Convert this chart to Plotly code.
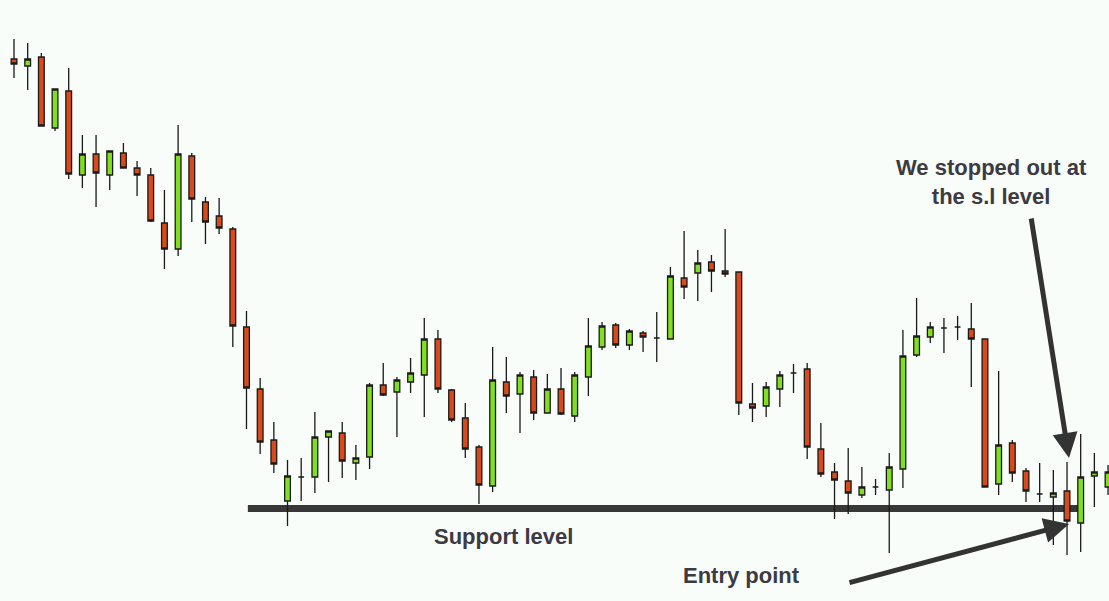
import plotly.graph_objects as go

# Candle data (arbitrary price units), one entry per session
opens = [541, 534, 543, 472, 509, 425, 446, 425, 447, 432,
         425, 377, 351, 444, 398, 384, 371, 273, 211, 160,
         99, 123, 123, 163, 167, 137, 143, 215, 208, 218,
         225, 261, 210, 182, 153, 114, 218, 206, 223, 187,
         211, 184, 223, 253, 275, 255, 267, 262, 261, 322,
         327, 338, 329, 328, 196, 194, 211, 227, 231, 151,
         128, 119, 105, 113, 110, 131, 245, 263, 272, 273,
         271, 261, 116, 157, 129, 106, 103, 109, 77, 124,
         113]
closes = [536, 541, 474, 511, 426, 446, 427, 449, 432, 425,
          379, 351, 446, 401, 378, 372, 274, 212, 158, 136,
          124, 123, 163, 169, 139, 142, 215, 205, 220, 227,
          261, 211, 180, 151, 115, 220, 204, 225, 187, 211,
          186, 225, 254, 274, 255, 269, 263, 262, 324, 313,
          337, 329, 326, 197, 192, 213, 225, 227, 153, 126,
          120, 107, 113, 113, 133, 244, 264, 273, 272, 273,
          261, 113, 155, 127, 109, 106, 107, 79, 123, 128,
          128]
highs = [561, 557, 547, 511, 532, 465, 465, 449, 457, 439,
         432, 410, 475, 447, 403, 402, 373, 289, 222, 178,
         140, 142, 188, 169, 178, 155, 217, 237, 223, 242,
         282, 270, 211, 197, 155, 253, 243, 228, 230, 226,
         232, 228, 282, 278, 277, 271, 269, 288, 333, 369,
         350, 345, 371, 328, 217, 218, 229, 236, 237, 177,
         137, 152, 133, 121, 147, 270, 302, 278, 282, 284,
         297, 261, 229, 160, 132, 137, 130, 138, 166, 147,
         135]
lows = [522, 510, 474, 469, 421, 412, 393, 410, 432, 404,
        378, 331, 344, 378, 356, 366, 253, 171, 146, 127,
        74, 99, 107, 118, 122, 120, 131, 204, 163, 207,
        183, 207, 178, 142, 96, 108, 187, 167, 180, 187,
        185, 178, 204, 250, 252, 250, 248, 238, 261, 301,
        299, 308, 323, 185, 178, 183, 193, 207, 141, 123,
        81, 86, 102, 105, 47, 112, 243, 257, 247, 260,
        213, 113, 105, 118, 98, 98, 55, 45, 48, 93,
        105]

idx = list(range(len(opens)))

# Annotation texts
support_text = "Support level"
entry_text = "Entry point"
stop_text = "We stopped out at<br>the s.l level"
support_price = 91.5

fig = go.Figure()
fig.add_trace(go.Candlestick(
    x=idx, open=opens, high=highs, low=lows, close=closes,
    increasing=dict(fillcolor="#80E020", line=dict(color="#1a1a1a", width=1.3)),
    decreasing=dict(fillcolor="#D84A1A", line=dict(color="#1a1a1a", width=1.3)),
    whiskerwidth=0,
    showlegend=False,
    hoverinfo="skip",
))

W, H = 1109, 601


def px(x):
    return x / W


def py(y):
    return 1 - y / H


# support line
fig.add_shape(type="line", xref="x", yref="y", x0=17.1, x1=77.95,
              y0=support_price, y1=support_price,
              line=dict(color="#383838", width=7), layer="below")

font = dict(family="Liberation Sans, Arial, sans-serif", size=22, color="#3d3a42")
annots = [
    dict(text="<b>" + support_text + "</b>", x=px(503), y=py(536), xref="paper", yref="paper",
         showarrow=False, font=font, xanchor="center", yanchor="middle"),
    dict(text="<b>" + entry_text + "</b>", x=px(741), y=py(575), xref="paper", yref="paper",
         showarrow=False, font=font, xanchor="center", yanchor="middle"),
    dict(text="<b>" + stop_text + "</b>", x=px(991), y=py(182), xref="paper", yref="paper",
         showarrow=False, font=font, xanchor="center", yanchor="middle", align="center"),
    # arrows
    dict(text="", x=px(1069), y=py(458), xref="paper", yref="paper",
         ax=-38, ay=-241, axref="pixel", ayref="pixel",
         showarrow=True, arrowhead=2, arrowsize=1.0, arrowwidth=5, arrowcolor="#333333"),
    dict(text="", x=px(1069), y=py(524), xref="paper", yref="paper",
         ax=-221, ay=59, axref="pixel", ayref="pixel",
         showarrow=True, arrowhead=2, arrowsize=1.0, arrowwidth=5, arrowcolor="#333333"),
]

fig.update_layout(
    width=W, height=H,
    margin=dict(l=0, r=0, t=0, b=0),
    paper_bgcolor="#F8FDFA",
    plot_bgcolor="#F8FDFA",
    annotations=annots,
    xaxis=dict(range=[-1.024, 80.07], visible=False, rangeslider=dict(visible=False),
               fixedrange=True),
    yaxis=dict(range=[-1, 600], visible=False, fixedrange=True),
    boxgap=0.4,
)

fig.write_html("out.html", config=dict(displayModeBar=False),
               post_script="document.body.style.margin='0';document.body.style.overflow='hidden';"
                           "document.body.style.background='#F8FDFA';")
